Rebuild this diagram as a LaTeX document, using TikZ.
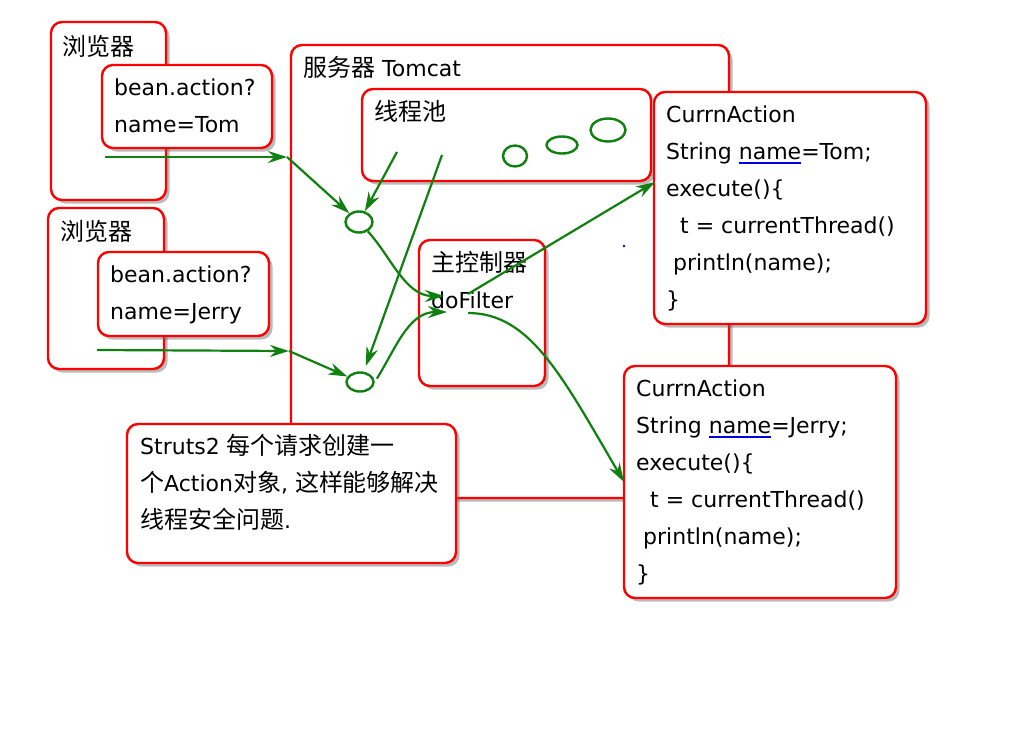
\documentclass[tikz,border=0pt]{standalone}
\usepackage{fontspec}
\setmainfont{DejaVu Sans}
\newfontfamily\cjk[Scale=1.09]{Noto Sans CJK SC}
\usetikzlibrary{arrows.meta,positioning,shapes.geometric,shadows}
\definecolor{flowgreen}{RGB}{16,128,16}
\definecolor{markblue}{RGB}{0,0,220}
\newcommand\markname[1]{\setbox0\hbox{#1}\rlap{\color{markblue}\rule[-5pt]{\wd0}{2pt}}\box0}
\newcommand\tp{\rule{0pt}{26pt}}

\begin{document}
\begin{tikzpicture}[x=1pt,y=-1pt,>={Stealth[length=19pt,width=12pt]},
  box/.style={draw=red,line width=2.4pt,rounded corners=11pt,fill=white,anchor=north west,outer sep=0pt,
    drop shadow={shadow xshift=3.5pt,shadow yshift=-3.5pt,fill=black!60,opacity=.45}},
  txt/.style={inner sep=0pt,align=left,font=\fontsize{22}{37}\selectfont},
  thread/.style={ellipse,draw=flowgreen,line width=2.4pt,inner sep=0pt},
  flow/.style={->,draw=flowgreen,line width=2.2pt}]

\useasboundingbox (0,0) rectangle (1024,728);

\node[box,minimum width=438pt,minimum height=453pt] (server) at (291,45) {};
\node[txt] (servert) [below right=5pt and 12pt of server.north west] {\tp{\cjk 服务器} Tomcat};

\node[box,minimum width=115pt,minimum height=178pt] (br1) at (51,22) {};
\node[txt] (br1t) [below right=7pt and 11pt of br1.north west] {\tp\cjk 浏览器};
\node[box,minimum width=170pt,minimum height=83pt] (req1) at (102,65) {};
\node[txt] (req1t) [below right=4pt and 12pt of req1.north west] {\tp bean.action?\\name=Tom};

\node[box,minimum width=116pt,minimum height=161pt] (br2) at (48,208) {};
\node[txt] (br2t) [below right=6pt and 12pt of br2.north west] {\tp\cjk 浏览器};
\node[box,minimum width=171pt,minimum height=84pt] (req2) at (98,252) {};
\node[txt] (req2t) [below right=4pt and 12pt of req2.north west] {\tp bean.action?\\name=Jerry};

\node[box,minimum width=289pt,minimum height=92pt] (pool) at (362,89) {};
\node[txt] (poolt) [below right=5pt and 12pt of pool.north west] {\tp\cjk 线程池};
\node[thread,minimum width=24pt,minimum height=21pt] (idle1) at (515,156) {};
\node[thread,minimum width=31pt,minimum height=17pt] (idle2) at (562,145) {};
\node[thread,minimum width=35pt,minimum height=23pt] (idle3) at (608,130) {};

\node[box,minimum width=126pt,minimum height=146pt] (ctrl) at (419,240) {};
\node[txt] (ctrlt) [below right=5pt and 12pt of ctrl.north west] {\tp{\cjk 主控制器}\\doFilter};

\node[box,minimum width=272pt,minimum height=232pt] (act1) at (654,92) {};
\node[txt] (act1t) [below right=4pt and 12pt of act1.north west]
  {\tp CurrnAction\\String \markname{name}=Tom;\\execute()\{\\\hspace*{14pt}t = currentThread()\\\hspace*{7pt}println(name);\\\}};

\node[box,minimum width=272pt,minimum height=232pt] (act2) at (624,366) {};
\node[txt] (act2t) [below right=4pt and 12pt of act2.north west]
  {\tp CurrnAction\\String \markname{name}=Jerry;\\execute()\{\\\hspace*{14pt}t = currentThread()\\\hspace*{7pt}println(name);\\\}};

\node[box,minimum width=329pt,minimum height=139pt] (note) at (127,424) {};
\node[txt] (notet) [below right=4pt and 13pt of note.north west]
  {\tp Struts2 {\cjk 每个请求创建一}\\{\cjk 个}Action{\cjk 对象}, {\cjk 这样能够解决}\\{\cjk 线程安全问题}.};

\node[thread,minimum width=27pt,minimum height=21pt] (t1) at (359,222) {};
\node[thread,minimum width=27pt,minimum height=19pt] (t2) at (360,382) {};

\fill[markblue] (624,246) circle (1.3pt);

\coordinate (in1) at (105,157);
\coordinate (gate1) at (287,157);
\coordinate (in2) at (97,350);
\coordinate (gate2) at (289,351);
\coordinate (p1) at (397,152);
\coordinate (p2) at (442,155);
\coordinate (hit1) at (444,296);
\coordinate (hit2) at (447,312);
\coordinate (out1) at (468,294);
\coordinate (out2) at (468,313);
\coordinate (act1in) at (655,182);

\path
(in1) edge[flow] (gate1)
(gate1) edge[flow] (t1)
(p1) edge[flow] (t1)
(p2) edge[flow,shorten >=6pt] (t2)
(in2) edge[flow] (gate2)
(gate2) edge[flow] (t2)
(out1) edge[flow] (act1in);

\draw[flow] (t1) .. controls (390,255) and (405,296) .. (hit1);
\draw[flow,shorten <=4pt] (t2.east) .. controls (395,350) and (408,312) .. (hit2);
\draw[flow] (out2) .. controls (530,313) and (562,376) .. (act2.west);
\end{tikzpicture}
\end{document}
